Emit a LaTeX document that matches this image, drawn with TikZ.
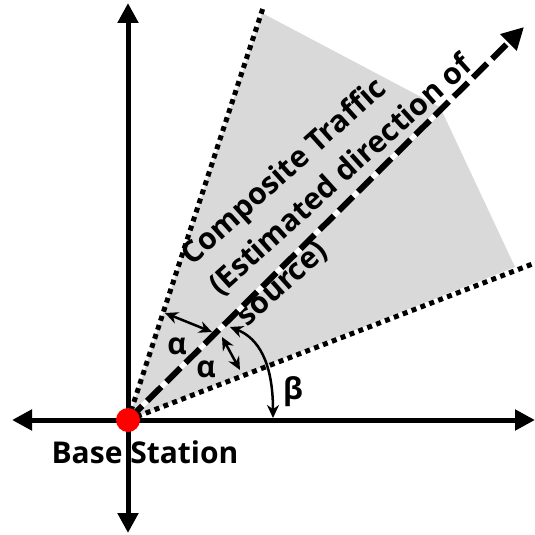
\documentclass[tikz,border=0pt]{standalone}
\usepackage{fontspec}
\setmainfont{Open Sans}
\usetikzlibrary{arrows.meta,calc}
\begin{document}
\begin{tikzpicture}[x=1pt,y=-1pt,
  axis/.style={line width=5pt,-{Triangle[length=20pt,width=20pt]}},
  bound/.style={line width=5pt,dash pattern=on 5pt off 4.5pt},
  dir/.style={line width=6pt,dash pattern=on 20pt off 7pt,-{Triangle[length=22pt,width=22pt]}},
  dblarrow/.style={line width=2.5pt,{Stealth[length=13pt,width=12pt]}-{Stealth[length=13pt,width=12pt]}},
  lbl/.style={font=\bfseries\fontsize{30}{41}\selectfont,inner sep=0pt},
  tline/.style={lbl,rotate=42,anchor=base west}]
\useasboundingbox (0,0) rectangle (535,535);
\coordinate (O) at (128,420);
\coordinate (up) at (263,8);
\coordinate (kink) at (440,107);
\coordinate (lowc) at (515,267);
\coordinate (low) at (535,263);
\coordinate (tip) at (524,27);
\coordinate (L) at (12,420);
\coordinate (R) at (535,420);
\coordinate (T) at (128,3);
\coordinate (B) at (128,533);
\fill[black!15] (O) -- (262,13) -- (kink) -- (lowc) -- cycle;
\draw[axis] (O) -- (L);
\draw[axis] (O) -- (R);
\draw[axis] (O) -- (T);
\draw[axis] (O) -- (B);
\draw[bound] (O) -- (up);
\draw[bound] (O) -- (low);
\node[tline] (t1) at (192.6,266.5) {Composite Traffic};
\node[tline] (t2) at (220,297) {(Estimated direction of};
\node[tline] (t3) at (247.4,327.5) {source)};
\draw[white,line width=5pt] (O) -- ($(O)!0.95!(tip)$);
\draw[dir] (O) -- (tip);
\coordinate (a1s) at (165,313);
\coordinate (a1e) at (212,332);
\coordinate (a2s) at (222,337);
\coordinate (a2e) at (240,370);
\coordinate (b1) at (230,327);
\coordinate (b2) at (273,418);
\draw[dblarrow] (a1s) -- (a1e);
\draw[dblarrow] (a2s) -- (a2e);
\draw[dblarrow] (b1) .. controls (258,338) and (273,362) .. (b2);
\node[lbl] (alpha1) at (177,346) {α};
\node[lbl] (alpha2) at (206,369) {α};
\node[lbl] (beta) at (293,392) {β};
\node[lbl,anchor=base] (bs) at (145,463) {Base Station};
\fill[red] (O) circle[radius=12];
\end{tikzpicture}
\end{document}
